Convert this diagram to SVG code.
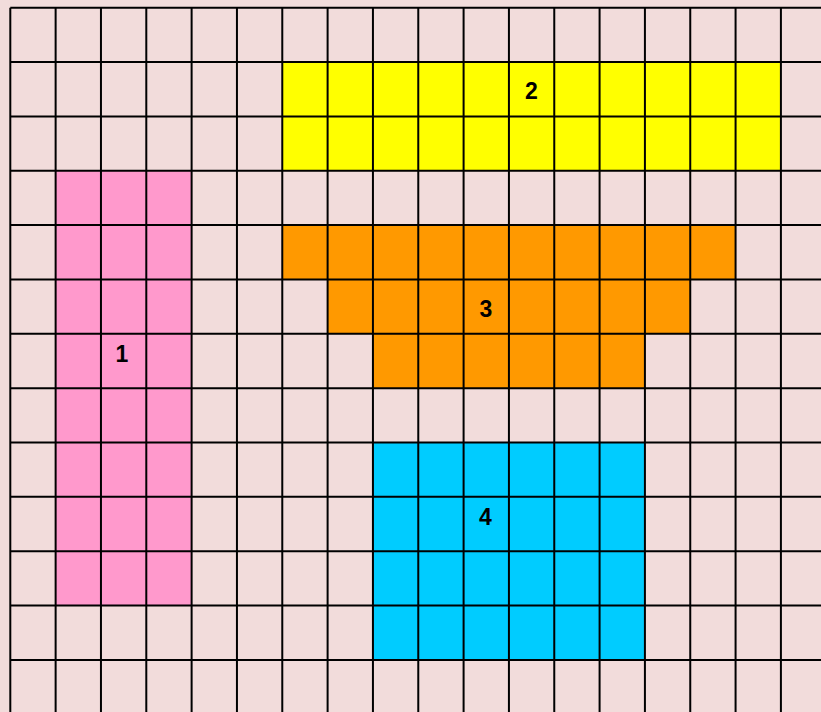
<svg xmlns="http://www.w3.org/2000/svg" width="821" height="712" viewBox="0 0 821 712">
<style>
.grid line{stroke:#000;stroke-width:2}
.lbl{font-family:"Liberation Sans",Arial,sans-serif;font-weight:bold;font-size:23px;fill:#000;text-anchor:middle}
</style>
<rect x="0" y="0" width="821" height="712" fill="#F2DCDB"/>
<g id="shape1">
<rect x="55.63" y="170.75" width="135.99" height="434.8" fill="#FF99CC"/>
<text class="lbl" x="122" y="362">1</text>
</g>
<g id="shape2">
<rect x="282.28" y="62.05" width="498.63" height="108.7" fill="#FFFF00"/>
<text class="lbl" x="531.5" y="99">2</text>
</g>
<g id="shape3">
<polygon points="282.28,225.1 735.58,225.1 735.58,279.45 690.25,279.45 690.25,333.8 644.92,333.8 644.92,388.15 372.94,388.15 372.94,333.8 327.61,333.8 327.61,279.45 282.28,279.45" fill="#FF9900"/>
<text class="lbl" x="486" y="317">3</text>
</g>
<g id="shape4">
<rect x="372.94" y="442.5" width="271.98" height="217.4" fill="#00CCFF"/>
<text class="lbl" x="485.5" y="525">4</text>
</g>
<g class="grid" id="connectors">
<line x1="10.3" y1="7.7" x2="10.3" y2="712"/>
<line x1="55.63" y1="7.7" x2="55.63" y2="712"/>
<line x1="100.96" y1="7.7" x2="100.96" y2="712"/>
<line x1="146.29" y1="7.7" x2="146.29" y2="712"/>
<line x1="191.62" y1="7.7" x2="191.62" y2="712"/>
<line x1="236.95" y1="7.7" x2="236.95" y2="712"/>
<line x1="282.28" y1="7.7" x2="282.28" y2="712"/>
<line x1="327.61" y1="7.7" x2="327.61" y2="712"/>
<line x1="372.94" y1="7.7" x2="372.94" y2="712"/>
<line x1="418.27" y1="7.7" x2="418.27" y2="712"/>
<line x1="463.6" y1="7.7" x2="463.6" y2="712"/>
<line x1="508.93" y1="7.7" x2="508.93" y2="712"/>
<line x1="554.26" y1="7.7" x2="554.26" y2="712"/>
<line x1="599.59" y1="7.7" x2="599.59" y2="712"/>
<line x1="644.92" y1="7.7" x2="644.92" y2="712"/>
<line x1="690.25" y1="7.7" x2="690.25" y2="712"/>
<line x1="735.58" y1="7.7" x2="735.58" y2="712"/>
<line x1="780.91" y1="7.7" x2="780.91" y2="712"/>
<line x1="10.3" y1="7.7" x2="821" y2="7.7"/>
<line x1="10.3" y1="62.05" x2="821" y2="62.05"/>
<line x1="10.3" y1="116.4" x2="821" y2="116.4"/>
<line x1="10.3" y1="170.75" x2="821" y2="170.75"/>
<line x1="10.3" y1="225.1" x2="821" y2="225.1"/>
<line x1="10.3" y1="279.45" x2="821" y2="279.45"/>
<line x1="10.3" y1="333.8" x2="821" y2="333.8"/>
<line x1="10.3" y1="388.15" x2="821" y2="388.15"/>
<line x1="10.3" y1="442.5" x2="821" y2="442.5"/>
<line x1="10.3" y1="496.85" x2="821" y2="496.85"/>
<line x1="10.3" y1="551.2" x2="821" y2="551.2"/>
<line x1="10.3" y1="605.55" x2="821" y2="605.55"/>
<line x1="10.3" y1="659.9" x2="821" y2="659.9"/>
</g>
</svg>
